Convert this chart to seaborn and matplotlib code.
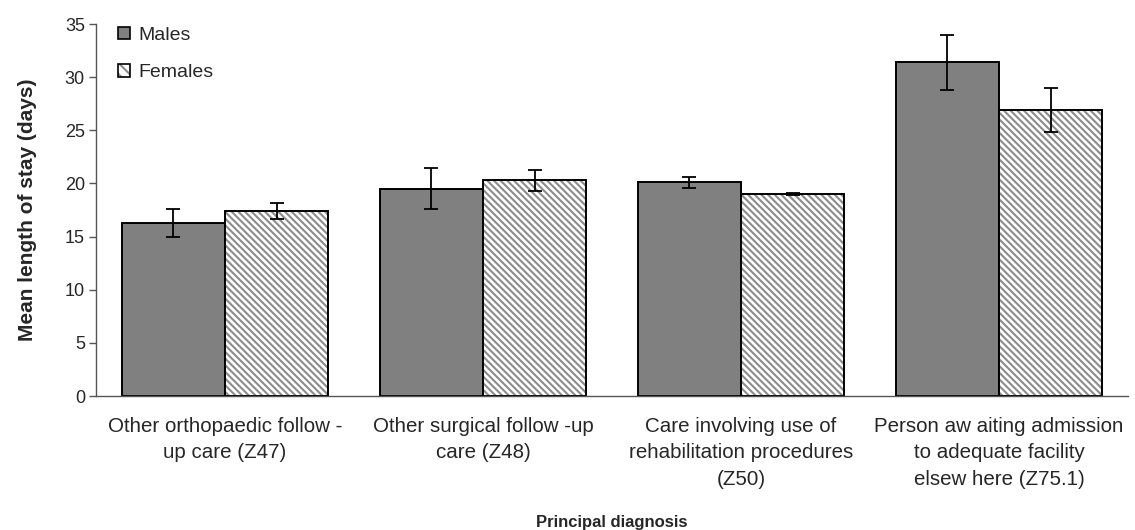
import matplotlib
matplotlib.use("Agg")
import matplotlib.pyplot as plt
from matplotlib.patches import Patch, Rectangle
from matplotlib.legend_handler import HandlerTuple
import seaborn as sns
import pandas as pd
import numpy as np

# Principal diagnosis categories (tick labels)
categories = [
    "Other orthopaedic follow -\nup care (Z47)",
    "Other surgical follow -up\ncare (Z48)",
    "Care involving use of\nrehabilitation procedures\n(Z50)",
    "Person aw aiting admission\nto adequate facility\nelsew here (Z75.1)",
]
sexes = ["Males", "Females"]

# Mean length of stay (days) and error half-widths
males_mean = [16.3, 19.5, 20.1, 31.4]
males_err = [1.3, 1.95, 0.5, 2.6]
females_mean = [17.4, 20.3, 19.0, 26.9]
females_err = [0.75, 1.0, 0.1, 2.1]

df = pd.DataFrame({
    "diagnosis": categories * 2,
    "sex": ["Males"] * 4 + ["Females"] * 4,
    "los": males_mean + females_mean,
})

HATCH = "\\\\\\\\\\"
HATCH_GREY = "#8c8c8c"

sns.set_theme(style="white")
plt.rcParams["font.family"] = ["Liberation Sans", "DejaVu Sans"]
plt.rcParams["hatch.linewidth"] = 1.5

fig = plt.figure(figsize=(11.35, 5.30), dpi=100)
ax = fig.add_axes([0.0846, 0.2528, 0.9092, 0.7019])

sns.barplot(data=df, x="diagnosis", y="los", hue="sex", order=categories,
            hue_order=sexes, palette=["#808080", "white"], width=0.8,
            errorbar=None, edgecolor="black", linewidth=1.4, ax=ax, legend=False)

# Solid grey for males; grey diagonal hatch with a black outline for females
n = len(categories)
bars = list(ax.patches[: 2 * n])
for i, p in enumerate(bars):
    if i >= n:
        p.set_hatch(HATCH)
        p.set_edgecolor(HATCH_GREY)
        p.set_linewidth(0)
        outline = Rectangle((p.get_x(), p.get_y()), p.get_width(), p.get_height(),
                            fill=False, edgecolor="black", linewidth=1.4,
                            zorder=p.get_zorder() + 0.1)
        ax.add_patch(outline)

# Error bars drawn at bar centres
errs = males_err + females_err
vals = males_mean + females_mean
xs = [p.get_x() + p.get_width() / 2 for p in bars]
ax.errorbar(xs, vals, yerr=errs, fmt="none", ecolor="black",
            elinewidth=1.3, capsize=5, capthick=1.3, zorder=5)

ax.set_ylim(0, 35)
ax.set_yticks(np.arange(0, 36, 5))
ax.set_xlim(-0.5, n - 0.5)

# Major ticks carry labels; minor ticks mark group boundaries
ax.set_xticks(range(n))
ax.set_xticklabels(categories, fontsize=14.8, linespacing=1.5)
ax.set_xticks(np.arange(-0.5, n, 1.0), minor=True)
ax.tick_params(axis="x", which="major", length=0, pad=15)
ax.tick_params(axis="x", which="minor", length=5, width=1, color="#555555", direction="out")
ax.tick_params(axis="y", length=5, width=1, color="#555555", direction="out",
               labelsize=13, pad=3, left=True)

for side in ["top", "right"]:
    ax.spines[side].set_visible(False)
for side in ["left", "bottom"]:
    ax.spines[side].set_color("#555555")
    ax.spines[side].set_linewidth(1)

ax.set_ylabel("Mean length of stay (days)", fontsize=15, fontweight="bold", labelpad=20)
ax.set_xlabel("Principal diagnosis", fontsize=12, fontweight="bold", labelpad=19)

# Legend with small square swatches; the female swatch is hatch plus outline
male_h = Patch(facecolor="#808080", edgecolor="black", linewidth=1.2)
fem_fill = Patch(facecolor="white", edgecolor=HATCH_GREY, linewidth=0, hatch="\\\\\\")
fem_edge = Patch(facecolor="none", edgecolor="black", linewidth=1.2)
ax.legend(handles=[male_h, (fem_fill, fem_edge)], labels=sexes,
          handler_map={tuple: HandlerTuple(ndivide=1, pad=0)},
          loc="upper left", bbox_to_anchor=(0.004, 1.04), frameon=False,
          fontsize=14, handlelength=0.62, handleheight=0.62, handletextpad=0.45,
          labelspacing=1.05)

fig.savefig("out.png", dpi=100)
